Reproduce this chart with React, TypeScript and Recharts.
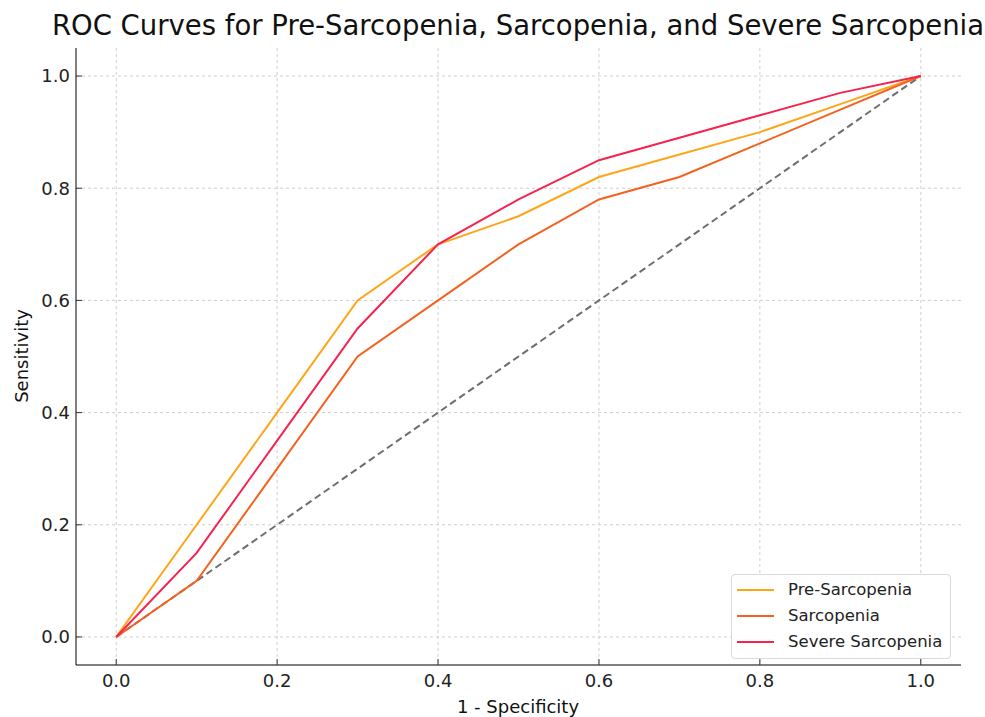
import React from "react";
import {
  LineChart,
  Line,
  XAxis,
  YAxis,
  CartesianGrid,
  Legend,
} from "recharts";

// false positive rate steps
const fpr = [0, 0.1, 0.2, 0.3, 0.4, 0.5, 0.6, 0.7, 0.8, 0.9, 1.0];
const preSarcopenia = [0, 0.2, 0.4, 0.6, 0.7, 0.75, 0.82, 0.86, 0.9, 0.95, 1.0];
const sarcopenia = [0, 0.1, 0.3, 0.5, 0.6, 0.7, 0.78, 0.82, 0.88, 0.94, 1.0];
const severeSarcopenia = [0, 0.15, 0.35, 0.55, 0.7, 0.78, 0.85, 0.89, 0.93, 0.97, 1.0];
const tickValues = [0, 0.2, 0.4, 0.6, 0.8, 1.0];

const series = [
  { key: "pre", name: "Pre-Sarcopenia", color: "#FFA51A" },
  { key: "sarc", name: "Sarcopenia", color: "#F4621F" },
  { key: "severe", name: "Severe Sarcopenia", color: "#F5234F" },
];

const data = fpr.map((x, i) => ({
  fpr: x,
  pre: preSarcopenia[i],
  sarc: sarcopenia[i],
  severe: severeSarcopenia[i],
  diag: x,
}));

const font = "'DejaVu Sans', sans-serif";

function LegendBox() {
  return (
    <div
      style={{
        background: "#fff",
        border: "1px solid #d9d9d9",
        borderRadius: 4,
        width: 220,
        boxSizing: "border-box",
        padding: "2px 0 3px 5px",
        fontFamily: font,
        fontSize: 16.5,
        color: "#222",
        lineHeight: "26px",
      }}
    >
      {series.map((s) => (
        <div key={s.key} style={{ display: "flex", alignItems: "center" }}>
          <span
            style={{
              display: "inline-block",
              width: 37,
              height: 2,
              background: s.color,
              marginRight: 14,
            }}
          />
          {s.name}
        </div>
      ))}
    </div>
  );
}

export default function App() {
  return (
    <div
      style={{
        position: "absolute",
        left: 0,
        top: 0,
        width: 985,
        height: 717,
        overflow: "hidden",
        background: "#fff",
        fontFamily: font,
      }}
    >
      <div
        style={{
          position: "absolute",
          left: 518,
          top: 9,
          transform: "translateX(-50%)",
          whiteSpace: "nowrap",
          fontSize: 27.5,
          color: "#111",
        }}
      >
        ROC Curves for Pre-Sarcopenia, Sarcopenia, and Severe Sarcopenia
      </div>
      <div
        style={{
          position: "absolute",
          left: 21,
          top: 356,
          transform: "translate(-50%, -50%) rotate(-90deg)",
          whiteSpace: "nowrap",
          fontSize: 18,
          color: "#111",
        }}
      >
        Sensitivity
      </div>
      <div
        style={{
          position: "absolute",
          left: 518,
          top: 696,
          transform: "translateX(-50%)",
          whiteSpace: "nowrap",
          fontSize: 18,
          color: "#111",
        }}
      >
        1 - Specificity
      </div>
      <LineChart
        width={985}
        height={717}
        data={data}
        margin={{ top: 48, right: 24, left: 16, bottom: 22 }}
      >
        <CartesianGrid stroke="#cfcfcf" strokeDasharray="3 3" syncWithTicks />
        <XAxis
          dataKey="fpr"
          type="number"
          domain={[-0.05, 1.05]}
          ticks={tickValues}
          tickFormatter={(v) => v.toFixed(1)}
          height={30}
          tickSize={-6}
          tickMargin={15}
          stroke="#000"
          tickLine={{ stroke: "#333" }}
          tick={{ fill: "#222", fontSize: 18, fontFamily: font }}
          allowDataOverflow
        />
        <YAxis
          type="number"
          domain={[-0.05, 1.05]}
          ticks={tickValues}
          tickFormatter={(v) => v.toFixed(1)}
          width={60}
          tickSize={-6}
          tickMargin={12}
          stroke="#000"
          tickLine={{ stroke: "#333" }}
          tick={{ fill: "#222", fontSize: 18, fontFamily: font }}
          allowDataOverflow
        />
        <Line
          dataKey="diag"
          stroke="#6e6e6e"
          strokeWidth={2}
          strokeDasharray="7 4"
          dot={false}
          legendType="none"
          isAnimationActive={false}
        />
        {series.map((s) => (
          <Line
            key={s.key}
            dataKey={s.key}
            name={s.name}
            stroke={s.color}
            strokeWidth={2}
            dot={false}
            type="linear"
            isAnimationActive={false}
          />
        ))}
        <Legend
          layout="horizontal"
          verticalAlign="middle"
          align="center"
          content={() => <LegendBox />}
          wrapperStyle={{ position: "absolute", left: 731, top: 574, width: "auto", bottom: "auto" }}
        />
      </LineChart>
    </div>
  );
}
